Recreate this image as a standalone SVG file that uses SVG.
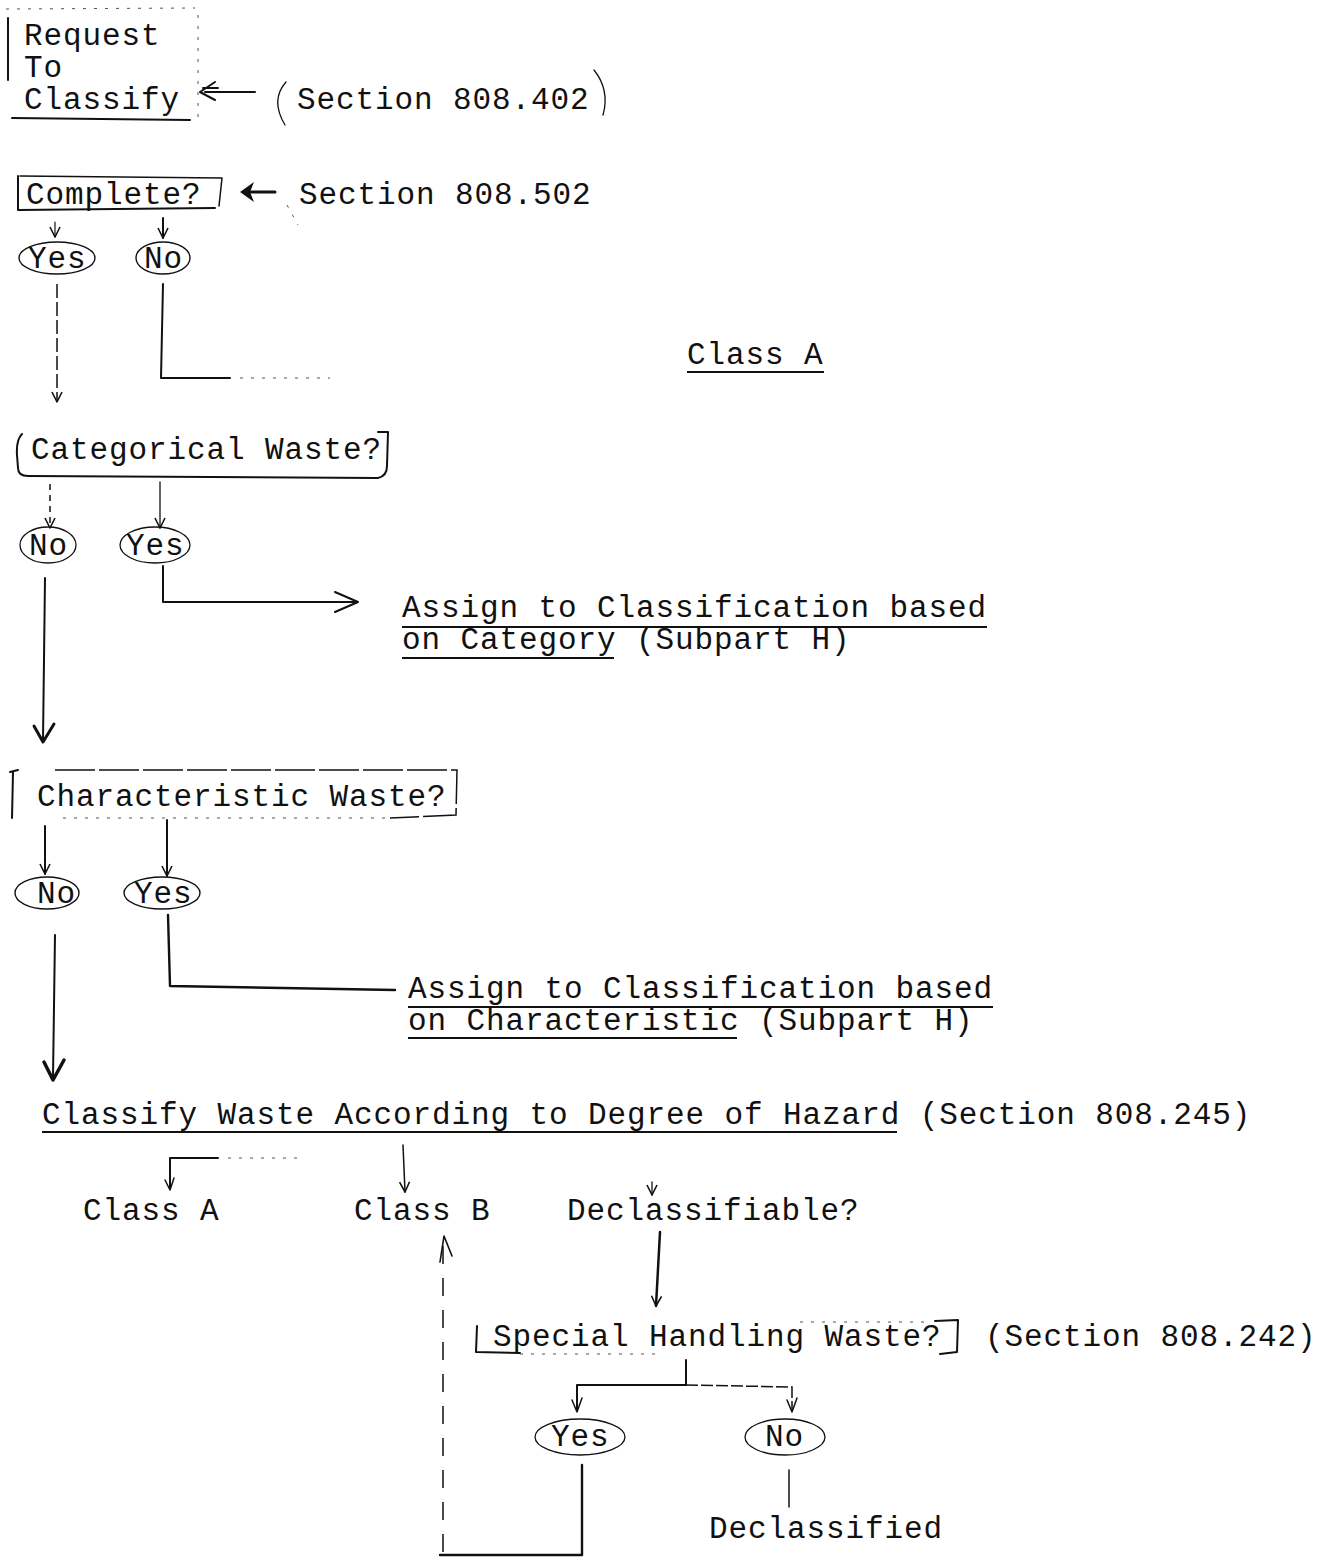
<svg xmlns="http://www.w3.org/2000/svg" width="1320" height="1558" viewBox="0 0 1320 1558">
<style>
text{font-family:"Liberation Mono","DejaVu Sans Mono",monospace;font-size:31px;letter-spacing:0.9px;fill:#111}
.l{fill:none;stroke:#111;stroke-width:2;stroke-linecap:round;stroke-linejoin:round}
.d{fill:none;stroke:#111;stroke-width:1.5;stroke-dasharray:10 6}
.t{fill:none;stroke:#555;stroke-width:1;stroke-dasharray:3 8}
.u{stroke:#111;stroke-width:2}
</style>
<defs>
<marker id="v" viewBox="0 0 12 12" refX="11" refY="6" markerWidth="12" markerHeight="12" markerUnits="userSpaceOnUse" orient="auto">
<path d="M1 1 L11 6 L1 11" fill="none" stroke="#111" stroke-width="1.6" stroke-linejoin="round"/>
</marker>
</defs>
<rect width="1320" height="1558" fill="#fff"/>

<g id="connectors">
<path class="l" d="M255 92 L205 92"/>
<path class="l" d="M215 82 L200 92 L215 100 M203 88 L218 88"/>
<path class="l" d="M275 192 L248 192" style="stroke-width:3"/>
<path d="M240 192 L254 182 L250 192 L254 202 Z" fill="#111"/>
<path class="l" d="M55 222 L55 237" marker-end="url(#v)" style="stroke-width:1.2"/>
<path class="l" d="M163 218 L163 238" marker-end="url(#v)"/>
<path class="d" d="M57 284 L57 402" marker-end="url(#v)" style="stroke-dasharray:14 4"/>
<path class="l" d="M163 284 L161 378 L230 378"/>
<path class="t" d="M240 378 L330 378"/>
<path class="d" d="M50 484 L50 528" marker-end="url(#v)" style="stroke-dasharray:6 5"/>
<path class="l" d="M160 482 L160 528" marker-end="url(#v)" style="stroke-width:1.3"/>
<path class="l" d="M163 566 L163 602 L355 602"/>
<path class="l" d="M335 592 L358 602 L335 612"/>
<path class="l" d="M45 578 L43 740"/>
<path class="l" d="M34 726 L43 742 L54 724" style="stroke-width:3"/>
<path class="l" d="M45 826 L45 874" marker-end="url(#v)"/>
<path class="l" d="M167 820 L167 876" marker-end="url(#v)"/>
<path class="l" d="M168 915 L170 986 L395 990" style="stroke-width:2.4"/>
<path class="l" d="M55 935 L53 1078"/>
<path class="l" d="M44 1062 L53 1080 L64 1060" style="stroke-width:3.5"/>
<path class="l" d="M218 1158 L170 1158 L170 1188"/>
<path class="l" d="M165 1180 L170 1190 L174 1178" style="stroke-width:1.5"/>
<path class="t" d="M228 1158 L305 1158"/>
<path class="l" d="M403 1145 L405 1192" marker-end="url(#v)" style="stroke-width:1.5"/>
<path class="l" d="M652 1182 L652 1195" marker-end="url(#v)" style="stroke-width:1.3"/>
<path class="l" d="M660 1232 L656 1306" marker-end="url(#v)" style="stroke-width:2.5"/>
<path class="l" d="M686 1360 L686 1385"/>
<path class="l" d="M577 1410 L577 1385 L686 1385"/>
<path class="d" d="M686 1385 L792 1387 L792 1410" style="stroke-dasharray:12 3"/>
<path class="l" d="M572 1400 L577 1412 L582 1398 M787 1400 L792 1412 L797 1398" style="stroke-width:1.5"/>
<path class="l" d="M789 1470 L789 1507" style="stroke-width:1.5"/>
<path class="l" d="M582 1465 L582 1555 L440 1555" style="stroke-width:2.4"/>
<path class="d" d="M443 1552 L443 1240" style="stroke-dasharray:18 14"/>
<path class="l" d="M440 1262 L444 1236 L452 1256" style="stroke-width:1.6"/>
</g>

<g id="request">
<path class="l" d="M8 18 L8 80"/>
<path class="t" d="M6 9 L195 8"/>
<path class="t" d="M198 15 L198 118"/>
<path class="l" d="M12 118 L190 120"/>
<text x="24" y="45">Request</text>
<text x="24" y="77">To</text>
<text x="24" y="109">Classify</text>
</g>

<g id="section402">
<path class="l" d="M286 82 Q270 100 285 125" style="stroke-width:1.3"/>
<path class="l" d="M594 70 Q610 90 603 115" style="stroke-width:1.3"/>
<text x="297" y="109">Section 808.402</text>
</g>

<g id="complete">
<path class="l" d="M18 176 L18 210 L215 208"/>
<path class="l" d="M20 176 L222 178 L219 206" style="stroke-width:1.5"/>
<text x="26" y="204">Complete?</text>
</g>

<g id="section502">
<text x="299" y="204">Section 808.502</text>
<path class="t" d="M287 205 L298 225"/>
</g>

<g id="c-yes">
<ellipse class="l" cx="57" cy="258" rx="38" ry="16" style="stroke-width:1.4"/>
<text x="28" y="268">Yes</text>
</g>
<g id="c-no">
<ellipse class="l" cx="163" cy="258" rx="27" ry="16" style="stroke-width:1.4"/>
<text x="144" y="268">No</text>
</g>

<g id="classA-top">
<text x="687" y="364">Class A</text>
<line class="u" x1="687" y1="372" x2="824" y2="372"/>
</g>

<g id="categorical">
<path class="l" d="M22 434 Q16 440 17 455 L18 468 Q18 476 28 476 L378 478 Q387 476 387 466 L388 432 L378 432"/>
<text x="31" y="459">Categorical Waste?</text>
</g>

<g id="cat-no">
<ellipse class="l" cx="48" cy="545" rx="28" ry="18" style="stroke-width:1.3"/>
<text x="29" y="555">No</text>
</g>
<g id="cat-yes">
<ellipse class="l" cx="155" cy="545" rx="35" ry="18" style="stroke-width:1.3"/>
<text x="126" y="555">Yes</text>
</g>

<g id="assign-category">
<text x="402" y="617">Assign to Classification based</text>
<text x="402" y="649">on Category (Subpart H)</text>
<line class="u" x1="402" y1="627" x2="987" y2="627"/>
<line class="u" x1="402" y1="658" x2="614" y2="658"/>
</g>

<g id="characteristic">
<path class="l" d="M10 772 L18 770 M13 772 L12 818"/>
<path class="d" d="M55 770 L457 770 L456 815 L390 818" style="stroke-dasharray:40 4"/>
<path class="t" d="M385 818 L60 818"/>
<text x="37" y="806">Characteristic Waste?</text>
</g>

<g id="char-no">
<ellipse class="l" cx="47" cy="893" rx="32" ry="16" style="stroke-width:1.4"/>
<text x="37" y="903">No</text>
</g>
<g id="char-yes">
<ellipse class="l" cx="162" cy="893" rx="38" ry="16" style="stroke-width:1.4"/>
<text x="134" y="903">Yes</text>
</g>

<g id="assign-characteristic">
<text x="408" y="998">Assign to Classification based</text>
<text x="408" y="1030">on Characteristic (Subpart H)</text>
<line class="u" x1="408" y1="1007" x2="993" y2="1007"/>
<line class="u" x1="408" y1="1038" x2="737" y2="1038"/>
</g>

<g id="classify">
<text x="42" y="1124">Classify Waste According to Degree of Hazard (Section 808.245)</text>
<line class="u" x1="42" y1="1132" x2="897" y2="1132"/>
</g>

<g id="classA">
<text x="83" y="1220">Class A</text>
</g>
<g id="classB">
<text x="354" y="1220">Class B</text>
</g>
<g id="declassifiable">
<text x="567" y="1220">Declassifiable?</text>
</g>

<g id="special">
<path class="l" d="M477 1326 L476 1352 L520 1353"/>
<path class="t" d="M520 1354 L660 1354"/>
<path class="t" d="M800 1322 L930 1322"/>
<path class="l" d="M935 1321 L958 1320 L957 1352 L940 1354"/>
<text x="493" y="1346">Special Handling Waste?</text>
<text x="985" y="1346">(Section 808.242)</text>
</g>

<g id="sp-yes">
<ellipse class="l" cx="580" cy="1437" rx="45" ry="18" style="stroke-width:1.3"/>
<text x="551" y="1446">Yes</text>
</g>
<g id="sp-no">
<ellipse class="l" cx="785" cy="1437" rx="40" ry="18" style="stroke-width:1.3"/>
<text x="765" y="1446">No</text>
</g>

<g id="declassified">
<text x="709" y="1538">Declassified</text>
</g>
</svg>
